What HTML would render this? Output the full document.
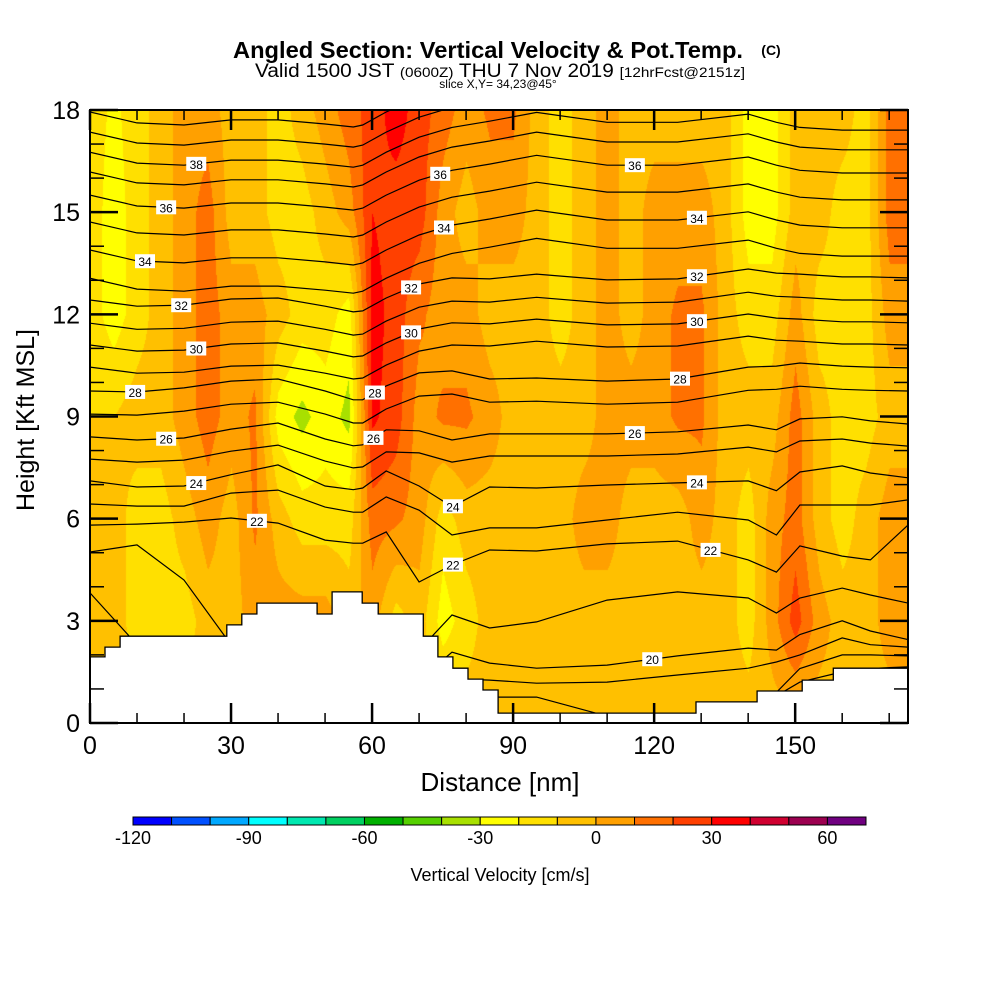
<!DOCTYPE html>
<html><head><meta charset="utf-8">
<style>
html,body{margin:0;padding:0;background:#fff;}
#wrap{position:relative;width:1000px;height:1000px;overflow:hidden;font-family:"Liberation Sans",sans-serif;}
#field{position:absolute;left:90px;top:110px;}
#ov{position:absolute;left:0;top:0;}
</style></head>
<body>
<div id="wrap">
<canvas id="field" width="818" height="613"></canvas>
<svg id="ov" width="1000" height="1000" xmlns="http://www.w3.org/2000/svg">
<defs><clipPath id="pc"><rect x="90" y="110" width="818" height="613"/></clipPath></defs>
<g id="lines" clip-path="url(#pc)"></g>
<g id="terrain" clip-path="url(#pc)"></g>
<g id="labels"></g>
<rect x="90" y="110" width="818" height="613" fill="none" stroke="#000" stroke-width="2"/>
<g id="ticks"></g>
<g id="cbar"></g>
<text x="488" y="58" text-anchor="middle" font-size="23" font-weight="bold" textLength="510" lengthAdjust="spacingAndGlyphs">Angled Section: Vertical Velocity &amp; Pot.Temp.</text>
<text x="771" y="55" text-anchor="middle" font-size="14" font-weight="bold">(C)</text>
<text x="500" y="77" text-anchor="middle" font-size="19" textLength="490" lengthAdjust="spacingAndGlyphs">Valid 1500 JST <tspan font-size="14">(0600Z)</tspan> THU 7 Nov 2019 <tspan font-size="14">[12hrFcst@2151z]</tspan></text>
<text x="498" y="88" text-anchor="middle" font-size="12">slice X,Y= 34,23@45°</text>
<text x="500" y="791" text-anchor="middle" font-size="26">Distance [nm]</text>
<text transform="translate(34,420) rotate(-90)" text-anchor="middle" font-size="25">Height [Kft MSL]</text>
<text x="500" y="881" text-anchor="middle" font-size="18">Vertical Velocity [cm/s]</text>
</svg>
</div>
<script>
// ---- data ----
const gridX = [0,5,10,15,20,25,30,35,40,45,50,55,60,65,70,75,80,85,90,95,100,105,110,115,120,125,130,135,140,145,150,155,160,165,170,175];
const gridH = [0,3,6,9,12,15,18];
const vv0  = [-5,-5,-5,-5,-5,-5,-5,-5,-5,-5,-5,-5,-5,-5,-5,-5,-5,-5,-5,-5,-5,-5,-5,-5,-5,-5,-5,-5,-5,-5,-5,-5,-5,-5,-5,-5];
const vv3  = [-5,-5,-15,-15,-15,-5,-5,5,5,5,5,-5,5,-15,-5,-25,-15,-5,-5,-5,-5,-5,-5,-5,-5,-5,-5,-5,-15,5,25,5,-5,-5,5,5];
const vv6  = [-5,-5,-15,-15,-5,5,-5,12,-5,-15,-15,-15,15,12,5,-15,-5,-5,-5,-5,-5,5,5,-5,-5,-5,5,-5,-15,5,15,-5,-15,-5,5,5];
const vv9  = [-10,-10,-5,-5,5,15,5,12,-25,-33,-25,-33,32,25,5,12,12,5,-5,-5,-5,-5,5,5,5,12,12,-5,-5,-5,15,-5,-15,-15,-5,-5];
const vv12 = [-15,-25,-15,-5,5,15,5,5,-5,-15,-15,-25,35,25,12,5,5,-5,-5,-5,-15,-5,5,-5,5,12,12,-5,-15,-15,5,-15,-15,-15,5,5];
const vv15 = [-15,-25,-15,-5,5,15,-5,-5,-15,-15,-5,5,30,25,25,5,-5,5,5,-5,-15,-5,5,-5,5,5,5,-5,-25,-25,-5,-5,-15,-15,15,15];
const vv18 = [-15,-22,-15,-5,5,5,-5,-5,-15,-5,5,15,25,35,25,15,5,12,12,-5,-15,-5,5,-5,-5,-5,-5,-5,-25,-25,-5,-5,-5,-15,15,15];
const cbLevels = [-120,-110,-100,-90,-80,-70,-60,-50,-40,-30,-20,-10,0,10,20,30,40,50,60,70];
const cbColors = ["#0000ff","#0050ff","#00a8ff","#00ffff","#00e8b0","#00d060","#00b000","#55d000","#a8e000","#ffff00","#ffe000","#ffc000","#ffa000","#ff7000","#ff4000","#ff0000","#d00030","#9c0050","#700080"];
const cbTicks = [-120,-90,-60,-30,0,30,60];
// isentrope heights (kft) at lineX nodes (nm)
const lineX = [0,10,20,30,40,50,56,58,63,70,77,85,95,110,125,140,146,151,160,166,174];
const thetaLevels = [40,39,38,37,36,35,34,33,32,31,30,29,28,27,26,25,24,23,22,21,20,19,18,17];
const th40=[17.94,17.62,17.56,17.71,17.71,17.59,17.50,17.56,17.94,18.38,18.67,18.85,19.11,18.82,18.82,19.06,18.82,18.67,18.59,18.59,18.59];
const th39=[17.35,17.03,16.97,17.12,17.12,17.00,16.91,16.97,17.35,17.79,18.08,18.26,18.52,18.23,18.23,18.47,18.23,18.08,18.00,18.00,18.00];
const th38=[16.76,16.44,16.38,16.53,16.53,16.41,16.32,16.38,16.76,17.20,17.49,17.67,17.93,17.64,17.64,17.88,17.64,17.49,17.41,17.41,17.41];
const th37=[16.18,15.86,15.80,15.95,15.95,15.83,15.74,15.80,16.18,16.62,16.91,17.09,17.35,17.06,17.06,17.30,17.06,16.91,16.83,16.83,16.83];
const th36=[15.50,15.18,15.12,15.27,15.27,15.15,15.06,15.12,15.50,15.94,16.23,16.41,16.67,16.38,16.38,16.62,16.38,16.23,16.15,16.15,16.15];
const th35=[14.71,14.39,14.33,14.48,14.48,14.36,14.27,14.33,14.71,15.15,15.44,15.62,15.88,15.59,15.59,15.83,15.59,15.44,15.36,15.36,15.36];
const th34=[13.89,13.57,13.51,13.66,13.66,13.54,13.45,13.51,13.89,14.33,14.62,14.80,15.06,14.77,14.77,15.01,14.77,14.62,14.54,14.54,14.54];
const th33=[13.06,12.74,12.68,12.83,12.83,12.71,12.62,12.68,13.06,13.50,13.79,13.97,14.23,13.94,13.94,14.18,13.94,13.79,13.71,13.71,13.71];
const th32=[12.42,12.24,12.27,12.45,12.48,12.24,12.07,12.10,12.48,12.89,13.07,13.04,13.18,13.01,13.04,13.33,13.21,13.18,13.10,13.10,13.07];
const th31=[11.74,11.56,11.59,11.77,11.80,11.56,11.39,11.42,11.80,12.21,12.39,12.36,12.50,12.33,12.36,12.65,12.53,12.50,12.42,12.42,12.39];
const th30=[11.10,10.92,10.95,11.13,11.16,10.92,10.75,10.78,11.16,11.57,11.75,11.72,11.86,11.69,11.72,12.01,11.89,11.86,11.78,11.78,11.75];
const th29=[10.45,10.27,10.30,10.48,10.51,10.27,10.10,10.13,10.51,10.92,11.10,11.07,11.21,11.04,11.07,11.36,11.24,11.21,11.13,11.13,11.10];
const th28=[9.75,9.72,9.84,10.04,10.10,9.75,9.49,9.49,9.90,10.28,10.34,10.10,10.13,10.04,10.10,10.45,10.48,10.57,10.48,10.45,10.43];
const th27=[9.07,9.04,9.16,9.36,9.42,9.07,8.81,8.81,9.22,9.60,9.66,9.42,9.45,9.36,9.42,9.77,9.80,9.89,9.80,9.77,9.75];
const th26=[8.40,8.31,8.37,8.63,8.81,8.34,8.14,8.17,8.61,8.58,8.31,8.49,8.49,8.49,8.55,8.75,8.61,8.93,8.99,8.87,8.78];
const th25=[7.75,7.66,7.72,7.98,8.16,7.69,7.49,7.52,7.96,7.93,7.66,7.84,7.84,7.84,7.90,8.10,7.96,8.28,8.34,8.22,8.13];
const th24=[7.11,6.93,6.96,7.29,7.58,6.96,6.85,6.90,7.40,6.96,6.35,6.93,6.90,6.99,7.05,7.11,6.82,7.37,7.55,7.34,7.20];
const th23=[6.43,6.37,6.37,6.75,6.84,6.34,6.19,6.19,6.64,6.25,5.52,5.73,5.73,5.96,6.19,5.96,5.52,6.40,6.40,6.40,6.55];
const th22=[5.81,5.84,5.90,6.02,5.87,5.37,5.28,5.28,5.61,4.14,4.64,5.08,5.05,5.26,5.34,4.79,4.43,5.20,4.90,4.79,5.81];
const th21=[5.02,5.23,4.20,2.30,2.14,2.14,2.14,2.14,2.14,2.14,3.17,2.79,2.97,3.61,3.85,3.67,3.23,3.67,3.96,3.76,3.52];
const th20=[3.82,2.30,1.56,1.26,1.26,1.26,1.26,1.26,1.26,1.26,2.08,1.76,1.61,1.70,1.97,2.20,2.14,2.60,3.00,2.70,2.45];
const th19=[1.50,1.50,1.30,1.30,1.30,1.30,1.30,1.30,1.30,1.30,1.30,1.26,1.17,1.20,1.41,1.61,1.79,2.00,2.50,2.30,2.23];
const th18=[1.00,1.00,1.00,1.00,1.00,1.00,1.00,1.00,1.00,1.00,1.00,0.76,0.76,0.20,0.20,0.50,0.90,1.60,2.00,2.00,1.97];
const th17=[0,0,0,0,0,0,0,0,0,0,0,0,0,0,0,0,0.80,1.20,1.50,1.60,1.65];
const labelLevel=[38,36,34,32,30,28,26,24,22,36,34,32,30,28,26,24,22,36,34,32,30,28,26,24,22,20];
const labelX=[22.6,16.2,11.7,19.4,22.6,9.6,16.2,22.6,35.5,74.5,75.3,68.3,68.3,60.6,60.3,77.2,77.2,115.9,129.1,129.1,129.1,125.5,115.9,129.1,132,119.6];
// terrain steps: segment start (nm) and height (kft)
const terrStart=[0,3.2,6.4,29.1,32.3,35.5,48.3,51.5,57.9,61.3,70.9,74.0,77.2,80.4,83.6,86.8,128.9,141.9,151.5,158.1];
const terrH=[1.94,2.23,2.55,2.88,3.20,3.52,3.20,3.85,3.52,3.20,2.55,1.94,1.61,1.29,0.97,0.29,0.62,0.94,1.26,1.61];
const xTicks=[0,30,60,90,120,150];
const yTicks=[0,3,6,9,12,15,18];

// ---- axes ----
const X0=90,X1=908,Y0=723,Y1=110,XMAX=174,YMAX=18;
const sx=v=>X0+v*(X1-X0)/XMAX;
const sy=v=>Y0-v*(Y0-Y1)/YMAX;
const NS="http://www.w3.org/2000/svg";
function mk(tag,attrs,parent){const e=document.createElementNS(NS,tag);for(const k in attrs)e.setAttribute(k,attrs[k]);parent.appendChild(e);return e;}

// ---- field ----
const rows=[vv0,vv3,vv6,vv9,vv12,vv15,vv18];
function valAt(x,h){
  let i=Math.min(gridX.length-2,Math.max(0,Math.floor(x/5)));
  let tx=(x-gridX[i])/(gridX[i+1]-gridX[i]);
  let j=Math.min(gridH.length-2,Math.max(0,Math.floor(h/3)));
  let ty=(h-gridH[j])/(gridH[j+1]-gridH[j]);
  const a=rows[j][i]*(1-tx)+rows[j][i+1]*tx;
  const b=rows[j+1][i]*(1-tx)+rows[j+1][i+1]*tx;
  return a*(1-ty)+b*ty;
}
const cv=document.getElementById('field');const ctx=cv.getContext('2d');
const img=ctx.createImageData(818,613);
const rgb=cbColors.map(c=>[parseInt(c.substr(1,2),16),parseInt(c.substr(3,2),16),parseInt(c.substr(5,2),16)]);
for(let py=0;py<613;py++){const h=(Y0-(py+110))*YMAX/(Y0-Y1);
  for(let px=0;px<818;px++){const x=px*XMAX/(X1-X0);const v=valAt(x,h);
    let k=Math.floor((v-cbLevels[0])/10);k=Math.max(0,Math.min(18,k));
    const o=(py*818+px)*4;img.data[o]=rgb[k][0];img.data[o+1]=rgb[k][1];img.data[o+2]=rgb[k][2];img.data[o+3]=255;}}
ctx.putImageData(img,0,0);

// ---- contours ----
const thetaData={40:th40,39:th39,38:th38,37:th37,36:th36,35:th35,34:th34,33:th33,32:th32,31:th31,30:th30,29:th29,28:th28,27:th27,26:th26,25:th25,24:th24,23:th23,22:th22,21:th21,20:th20,19:th19,18:th18,17:th17};
const gl=document.getElementById('lines');
thetaLevels.forEach(t=>{
  const d=thetaData[t].map((h,i)=>(i?'L':'M')+sx(lineX[i]).toFixed(1)+','+sy(h).toFixed(1)).join(' ');
  const p=mk('path',{d:d,fill:'none',stroke:'#000','stroke-width':'1.2'},gl);
  
  
});
function lineAt(t,x){const a=thetaData[t];for(let i=0;i<lineX.length-1;i++){if(x<=lineX[i+1]){const f=(x-lineX[i])/(lineX[i+1]-lineX[i]);return a[i]*(1-f)+a[i+1]*f;}}return a[a.length-1];}

// ---- terrain ----
const gt=document.getElementById('terrain');
let td='M'+sx(0)+','+(Y0+5);
terrStart.forEach((s,i)=>{const e=i<terrStart.length-1?terrStart[i+1]:XMAX+2;td+=' L'+sx(s).toFixed(1)+','+sy(terrH[i]).toFixed(1)+' L'+sx(e).toFixed(1)+','+sy(terrH[i]).toFixed(1);});
td+=' L'+sx(XMAX+2)+','+(Y0+5)+' Z';
const tp=mk('path',{d:td,fill:'#fff',stroke:'#000','stroke-width':'1.3'},gt);



// ---- labels ----
const glb=document.getElementById('labels');
labelLevel.forEach((t,i)=>{
  const x=sx(labelX[i]),y=sy(lineAt(t,labelX[i]));
  const g=mk('g',{},glb);
  
  
  mk('rect',{x:x-10,y:y-7,width:20,height:14,fill:'#fff'},g);
  const tx=mk('text',{x:x,y:y+5,'text-anchor':'middle','font-size':'12','font-family':'Liberation Sans, sans-serif'},g);
  tx.textContent=t;
});

// ---- ticks ----
const gk=document.getElementById('ticks');
for(let v=0;v<=170;v+=10){const x=sx(v);const L=(v%30===0)?20:10;
  mk('line',{x1:x,y1:Y1,x2:x,y2:Y1+L,stroke:'#000','stroke-width':v%30===0?2.5:1.5},gk);
  mk('line',{x1:x,y1:Y0,x2:x,y2:Y0-L,stroke:'#000','stroke-width':v%30===0?2.5:1.5},gk);}
for(let v=0;v<=18;v++){const y=sy(v);const L=(v%3===0)?28:14;
  mk('line',{x1:X0,y1:y,x2:X0+L,y2:y,stroke:'#000','stroke-width':v%3===0?2.5:1.5},gk);
  mk('line',{x1:X1,y1:y,x2:X1-L,y2:y,stroke:'#000','stroke-width':v%3===0?2.5:1.5},gk);}
xTicks.forEach(v=>{const t=mk('text',{x:sx(v),y:754,'text-anchor':'middle','font-size':'25'},gk);t.textContent=v;
  
  });
yTicks.forEach(v=>{const t=mk('text',{x:80,y:sy(v)+9,'text-anchor':'end','font-size':'25'},gk);t.textContent=v;
  
  });

// ---- colorbar ----
const gc=document.getElementById('cbar');
const CB0=133,CB1=866,CBW=(CB1-CB0)/cbColors.length;
cbColors.forEach((c,i)=>{const r=mk('rect',{x:CB0+i*CBW,y:817,width:CBW,height:8,fill:c,stroke:'#000','stroke-width':'1'},gc);
  
  });
cbTicks.forEach(v=>{const x=CB0+(v-cbLevels[0])/10*CBW;const t=mk('text',{x:x,y:844,'text-anchor':'middle','font-size':'18'},gc);t.textContent=v;
  
  });
</script>
</body></html>
